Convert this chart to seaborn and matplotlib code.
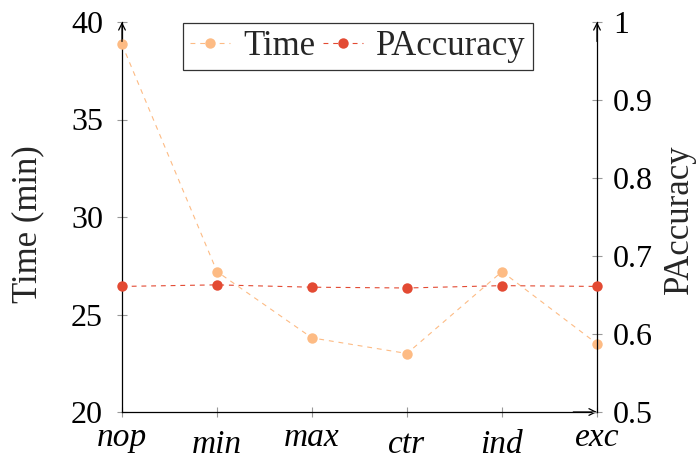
import matplotlib
matplotlib.use("Agg")
import matplotlib.pyplot as plt
import matplotlib.transforms as mtransforms
import seaborn as sns
import pandas as pd
from matplotlib.lines import Line2D

categories = ["nop", "min", "max", "ctr", "ind", "exc"]
time_min = [38.85, 27.2, 23.8, 23.0, 27.2, 23.5]
paccuracy = [0.661, 0.663, 0.660, 0.659, 0.662, 0.661]
time_ticks = [20, 25, 30, 35, 40]
acc_ticks = [0.5, 0.6, 0.7, 0.8, 0.9, 1.0]
acc_ticklabels = ["0.5", "0.6", "0.7", "0.8", "0.9", "1"]

sns.set_theme(style="white")
plt.rcParams['font.family'] = ['Liberation Serif', 'DejaVu Serif']
plt.rcParams['lines.scale_dashes'] = False

c_time = "#fdbb84"
c_acc = "#e34a33"
fs_tick = 23
fs_xtick = 24
fs_label = 25
fs_leg = 25

df = pd.DataFrame({"x": range(len(categories)), "Time": time_min, "PAccuracy": paccuracy})

fig = plt.figure(figsize=(6.98, 4.59), dpi=100)
ax = fig.add_axes([122/698, 1-412/459, 475/698, 390/459])
ax2 = ax.twinx()

dash = (0, (3.5, 3.5))
ms = 7.5
sns.lineplot(data=df, x="x", y="Time", ax=ax, color=c_time, marker="o", markersize=ms,
             markeredgewidth=0, linewidth=0.8, linestyle=dash, clip_on=False, zorder=3)
sns.lineplot(data=df, x="x", y="PAccuracy", ax=ax2, color=c_acc, marker="o", markersize=ms,
             markeredgewidth=0, linewidth=0.8, linestyle=dash, clip_on=False, zorder=3)

ax.set_xlim(0, len(categories)-1)
ax.set_ylim(20, 40)
ax2.set_ylim(0.5, 1.0)
ax.set_xticks(range(len(categories)))
ax.set_xticklabels(categories, fontstyle="italic", fontsize=fs_xtick)
ax.set_yticks(time_ticks)
ax.set_yticklabels([str(t) for t in time_ticks], fontsize=fs_tick)
ax2.set_yticks(acc_ticks)
ax2.set_yticklabels(acc_ticklabels, fontsize=fs_tick)
ax.set_xlabel("")
ax.set_ylabel("Time (min)", fontsize=fs_label)
ax2.set_ylabel("PAccuracy", fontsize=fs_label)
ax.yaxis.set_label_coords(-0.164, 0.483)
ax2.yaxis.set_label_coords(1.138, 0.495)

for a in (ax, ax2):
    a.tick_params(direction="inout", length=7.2, width=0.8, color="#999999", labelcolor="black")
    a.spines["top"].set_visible(False)
    for s in ("left", "right", "bottom"):
        a.spines[s].set_color("black")
        a.spines[s].set_linewidth(0.9)
ax.tick_params(axis="y", pad=10, left=True)
ax.tick_params(axis="x", pad=21, bottom=True)
ax2.tick_params(axis="y", pad=8, right=True)
ax2.spines["left"].set_visible(False)
ax.spines["right"].set_visible(False)
ax2.spines["bottom"].set_visible(False)

# pgfplots anchors tick labels at their top: words with tall glyphs sit lower
for lab in ax.get_xticklabels():
    lab.set_va("baseline")
    if any(ch in "bdfhiklt" for ch in lab.get_text()):
        lab.set_transform(lab.get_transform() +
                          mtransforms.ScaledTranslation(0, -5/72, fig.dpi_scale_trans))

ap = dict(arrowstyle="->", lw=0.9, color="black", mutation_scale=12, shrinkA=0, shrinkB=0)
ax.annotate("", xy=(0, 1.0), xytext=(0, 0.95), xycoords="axes fraction", arrowprops=ap, annotation_clip=False)
ax.annotate("", xy=(1, 1.0), xytext=(1, 0.95), xycoords="axes fraction", arrowprops=ap, annotation_clip=False)
ax.annotate("", xy=(1, 0.0), xytext=(0.95, 0.0), xycoords="axes fraction", arrowprops=ap, annotation_clip=False)

handles = [Line2D([], [], color=c_time, marker="o", markersize=ms, markeredgewidth=0, lw=0.8, linestyle=dash),
           Line2D([], [], color=c_acc, marker="o", markersize=ms, markeredgewidth=0, lw=0.8, linestyle=dash)]
leg = ax2.legend(handles, ["Time", "PAccuracy"], loc="upper center", bbox_to_anchor=(0.497, 0.997),
                 ncol=2, fontsize=fs_leg, frameon=True, fancybox=False, edgecolor="black",
                 handlelength=1.15, handletextpad=0.37, columnspacing=0.23, borderpad=0.2,
                 borderaxespad=0)
leg.get_frame().set_linewidth(0.9)

fig.savefig("out.png", dpi=100)
